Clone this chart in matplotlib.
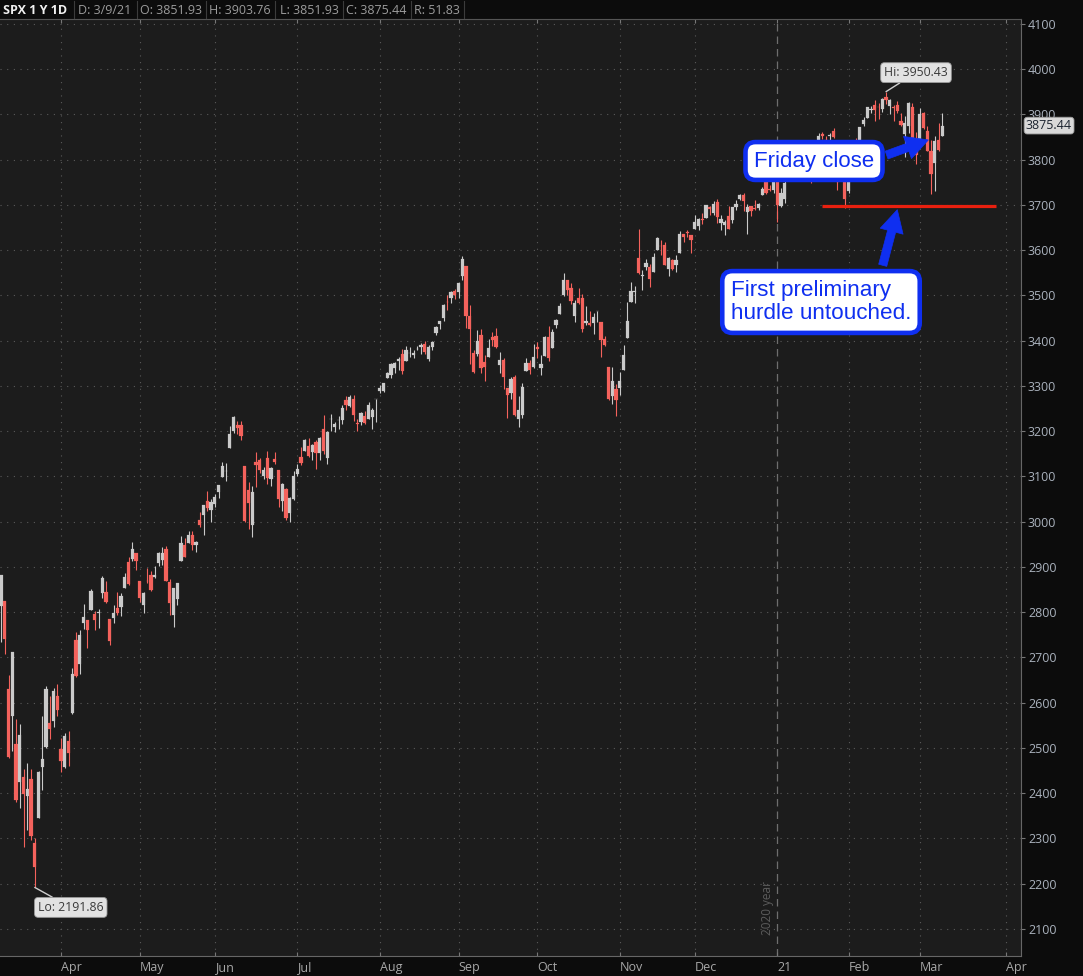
import matplotlib
matplotlib.use('Agg')
import matplotlib.pyplot as plt
import pandas as pd
import numpy as np
from matplotlib.patches import FancyArrowPatch
from matplotlib.lines import Line2D

# ---------------- data ----------------
holidays = ['2020-04-10', '2020-05-25', '2020-07-03', '2020-09-07', '2020-11-26',
            '2020-12-25', '2021-01-01', '2021-01-18', '2021-02-15']
dates = pd.bdate_range('2020-03-10', '2021-03-09')
dates = dates[~dates.isin(pd.to_datetime(holidays))]

opens = [
    2813.48, 2825.60, 2630.86, 2569.99, 2508.59, 2425.66, 2436.50, 2393.48, 2431.94, 2290.71, 2344.44, 2457.77, 2501.29, 2555.87, 2558.98, 2614.69,
    2498.08, 2458.54, 2514.92, 2578.28, 2738.65, 2685.00, 2776.99, 2782.46, 2805.10, 2795.64, 2799.34, 2842.43, 2845.62, 2784.81, 2787.89, 2810.42, 2812.64, 2854.65, 2909.96, 2918.46, 2930.91,
    2869.09, 2815.01, 2868.88, 2883.14, 2878.26, 2908.83, 2915.46, 2939.50, 2865.86, 2794.54, 2829.95, 2913.86, 2948.59, 2953.63, 2969.95, 2948.05, 3004.08, 3015.65, 3046.61, 3025.17,
    3038.78, 3064.78, 3098.90, 3111.56, 3163.84, 3199.92, 3213.32, 3213.42, 3123.53, 3071.04, 2993.76, 3131.00, 3136.13, 3101.64, 3140.29, 3094.42, 3138.70, 3114.40, 3046.60, 3073.20, 3018.59, 3050.20,
    3105.92, 3143.64, 3155.29, 3166.44, 3153.07, 3176.17, 3152.47, 3205.08, 3141.11, 3225.98, 3208.36, 3224.21, 3224.29, 3268.52, 3254.86, 3271.64, 3218.58, 3219.84, 3234.27, 3227.22, 3231.76, 3270.45,
    3288.26, 3289.92, 3317.37, 3323.17, 3340.05, 3356.04, 3370.34, 3355.46, 3372.95, 3368.66, 3380.86, 3387.04, 3392.51, 3360.48, 3386.01, 3418.09, 3435.95, 3449.97, 3485.14, 3494.69, 3509.73,
    3507.44, 3543.76, 3564.74, 3453.60, 3371.88, 3369.82, 3412.56, 3352.70, 3363.56, 3407.73, 3411.23, 3346.86, 3357.38, 3295.75, 3285.57, 3320.11, 3226.14, 3236.66, 3333.90, 3350.92, 3341.21,
    3385.87, 3338.94, 3367.27, 3408.74, 3384.56, 3434.28, 3459.67, 3500.02, 3534.01, 3515.47, 3453.72, 3493.50, 3493.66, 3439.38, 3439.91, 3438.50, 3464.90, 3441.42, 3403.15, 3342.48, 3277.17, 3293.59,
    3296.20, 3336.25, 3406.46, 3485.74, 3508.34, 3583.04, 3543.26, 3563.22, 3562.67, 3552.57, 3600.16, 3610.31, 3612.09, 3559.41, 3579.31, 3566.82, 3594.52, 3635.50, 3638.55, 3634.18,
    3645.87, 3653.78, 3668.28, 3670.94, 3694.73, 3683.05, 3705.98, 3659.13, 3656.08, 3675.27, 3666.41, 3696.25, 3713.65, 3722.39, 3684.28, 3698.08, 3693.42, 3694.03, 3723.03, 3750.01, 3736.19, 3733.27,
    3764.61, 3698.02, 3712.20, 3764.71, 3815.05, 3803.14, 3801.62, 3802.23, 3814.98, 3788.73, 3781.88, 3816.22, 3857.46, 3844.24, 3851.68, 3862.96, 3836.83, 3755.75, 3778.05,
    3731.17, 3791.84, 3840.27, 3836.66, 3878.30, 3892.59, 3910.49, 3920.78, 3916.40, 3911.65, 3939.61, 3918.50, 3915.86, 3921.16, 3885.55, 3857.07, 3873.71, 3915.80, 3839.66,
    3842.51, 3903.64, 3863.99, 3818.53, 3793.58, 3844.39, 3851.93,
]
highs = [
    2882.59, 2825.60, 2660.95, 2711.33, 2562.98, 2553.93, 2453.57, 2466.97, 2453.01, 2300.73, 2449.71, 2571.42, 2637.01, 2615.91, 2631.80, 2641.39,
    2522.75, 2533.22, 2538.18, 2676.85, 2756.89, 2760.75, 2818.57, 2782.46, 2851.85, 2801.88, 2806.51, 2879.22, 2868.98, 2785.54, 2815.10, 2844.90, 2842.71, 2887.72, 2921.15, 2954.86, 2930.91,
    2869.09, 2844.24, 2898.23, 2891.11, 2901.92, 2932.16, 2944.25, 2945.82, 2874.14, 2852.80, 2865.01, 2968.09, 2964.21, 2980.29, 2978.50, 2956.76, 3021.72, 3036.25, 3068.67, 3049.17,
    3062.18, 3081.07, 3130.94, 3128.91, 3211.72, 3233.13, 3222.71, 3223.27, 3123.53, 3088.42, 3079.76, 3153.45, 3141.16, 3120.00, 3155.53, 3120.92, 3154.90, 3115.01, 3086.25, 3073.73, 3053.89, 3111.51,
    3128.44, 3165.81, 3182.59, 3184.15, 3171.80, 3179.78, 3186.82, 3235.32, 3200.95, 3238.28, 3220.39, 3233.52, 3258.61, 3277.29, 3279.32, 3279.99, 3227.26, 3241.43, 3243.72, 3264.74, 3250.92, 3272.17,
    3302.73, 3306.84, 3330.77, 3351.03, 3352.54, 3363.29, 3381.01, 3387.89, 3387.24, 3378.51, 3387.59, 3395.06, 3399.54, 3390.80, 3399.96, 3432.09, 3444.21, 3481.07, 3501.38, 3509.23, 3514.77,
    3528.03, 3588.11, 3564.85, 3479.15, 3379.97, 3424.77, 3425.55, 3368.95, 3402.93, 3419.48, 3428.92, 3375.17, 3362.27, 3295.75, 3320.31, 3323.35, 3278.70, 3306.88, 3360.74, 3357.92, 3393.56,
    3397.18, 3369.10, 3409.57, 3431.56, 3426.26, 3447.28, 3482.34, 3549.85, 3534.01, 3527.94, 3489.08, 3515.76, 3502.42, 3476.93, 3464.86, 3460.53, 3466.46, 3441.42, 3409.51, 3342.48, 3341.05, 3304.93,
    3330.14, 3389.49, 3486.25, 3529.05, 3521.58, 3645.99, 3557.22, 3581.16, 3569.02, 3593.66, 3628.51, 3623.11, 3619.09, 3585.22, 3581.23, 3589.81, 3642.31, 3635.50, 3644.31, 3634.18,
    3678.45, 3670.96, 3682.73, 3699.20, 3697.41, 3708.45, 3712.39, 3678.49, 3665.91, 3697.61, 3695.29, 3711.27, 3725.12, 3726.70, 3702.90, 3698.26, 3711.24, 3703.82, 3740.51, 3756.12, 3744.63, 3760.20,
    3769.99, 3737.83, 3783.04, 3811.55, 3826.69, 3817.86, 3810.78, 3820.96, 3823.60, 3788.73, 3804.53, 3859.75, 3861.45, 3852.31, 3859.23, 3870.90, 3836.83, 3830.50, 3778.05,
    3784.32, 3843.09, 3847.51, 3872.42, 3894.56, 3915.77, 3918.35, 3931.50, 3925.99, 3937.23, 3950.43, 3933.61, 3921.98, 3930.41, 3902.92, 3895.98, 3928.65, 3925.02, 3861.08,
    3914.50, 3906.41, 3874.47, 3843.67, 3851.69, 3881.06, 3903.76,
]
lows = [
    2734.00, 2707.22, 2478.86, 2492.37, 2380.94, 2367.04, 2280.52, 2319.78, 2295.56, 2191.86, 2344.44, 2407.53, 2500.72, 2520.02, 2545.28, 2571.15,
    2447.49, 2455.79, 2459.96, 2574.57, 2657.67, 2663.30, 2762.36, 2721.17, 2805.10, 2761.54, 2764.32, 2830.88, 2820.43, 2727.10, 2775.95, 2794.26, 2791.76, 2852.89, 2860.71, 2912.16, 2892.47,
    2821.61, 2797.85, 2863.55, 2847.65, 2876.48, 2902.88, 2903.44, 2869.59, 2793.15, 2766.64, 2816.78, 2913.86, 2922.35, 2953.63, 2938.57, 2933.59, 2988.17, 2969.75, 3023.40, 2998.61,
    3031.54, 3051.64, 3098.90, 3090.41, 3163.84, 3196.00, 3193.11, 3181.49, 2999.49, 2984.47, 2965.66, 3076.06, 3108.03, 3093.51, 3083.11, 3079.39, 3127.12, 3032.13, 3024.01, 3004.63, 2999.74, 3047.83,
    3101.17, 3124.52, 3155.29, 3142.93, 3136.53, 3115.70, 3136.22, 3149.43, 3127.66, 3200.76, 3198.59, 3205.65, 3215.16, 3247.77, 3253.10, 3222.66, 3200.05, 3214.25, 3216.17, 3227.22, 3204.13, 3220.26,
    3284.53, 3286.37, 3317.37, 3318.14, 3328.72, 3335.44, 3326.44, 3355.46, 3363.35, 3361.64, 3379.22, 3370.15, 3369.66, 3354.69, 3379.31, 3413.13, 3425.84, 3444.15, 3468.35, 3484.32, 3493.25,
    3494.60, 3535.23, 3427.41, 3349.63, 3329.27, 3366.84, 3329.25, 3310.47, 3363.56, 3389.25, 3384.45, 3328.82, 3292.40, 3229.10, 3270.95, 3232.57, 3209.45, 3228.44, 3332.91, 3327.54, 3340.47,
    3361.39, 3323.69, 3367.27, 3354.54, 3384.56, 3428.15, 3458.07, 3499.61, 3500.86, 3480.55, 3440.89, 3480.45, 3419.93, 3435.65, 3433.06, 3415.34, 3440.45, 3364.86, 3388.71, 3268.89, 3259.82, 3233.94,
    3279.74, 3336.25, 3405.17, 3485.74, 3484.34, 3547.48, 3511.91, 3557.00, 3518.58, 3552.57, 3600.16, 3588.68, 3567.33, 3543.84, 3556.85, 3552.77, 3594.52, 3617.76, 3629.33, 3594.39,
    3645.87, 3644.84, 3657.17, 3670.94, 3678.88, 3678.83, 3660.54, 3645.18, 3633.40, 3645.84, 3659.62, 3688.57, 3710.87, 3685.84, 3636.48, 3676.16, 3689.28, 3689.32, 3723.03, 3723.31, 3730.21, 3726.88,
    3662.71, 3695.07, 3705.34, 3764.71, 3783.60, 3789.02, 3776.51, 3791.50, 3792.86, 3749.62, 3780.37, 3816.22, 3845.05, 3830.41, 3797.16, 3847.78, 3732.48, 3755.75, 3694.12,
    3725.62, 3791.84, 3816.68, 3836.66, 3874.93, 3892.59, 3902.64, 3884.94, 3890.39, 3905.78, 3923.85, 3900.43, 3885.03, 3903.07, 3874.71, 3805.59, 3859.60, 3814.04, 3789.54,
    3842.51, 3868.57, 3818.86, 3723.34, 3730.19, 3819.25, 3851.93,
]
closes = [
    2882.23, 2741.38, 2480.64, 2711.02, 2386.13, 2529.19, 2398.10, 2409.39, 2304.92, 2237.40, 2447.33, 2475.56, 2630.07, 2541.47, 2626.65, 2584.59,
    2470.50, 2526.90, 2488.65, 2663.68, 2659.41, 2749.98, 2789.82, 2761.63, 2846.06, 2783.36, 2799.55, 2874.56, 2823.16, 2736.56, 2799.31, 2797.80, 2836.74, 2878.48, 2863.39, 2939.51, 2912.43,
    2830.71, 2842.74, 2868.44, 2848.42, 2881.19, 2929.80, 2930.32, 2870.12, 2820.00, 2852.50, 2863.70, 2953.91, 2922.94, 2971.61, 2948.51, 2955.45, 2991.77, 3036.13, 3029.73, 3044.31,
    3055.73, 3080.82, 3122.87, 3112.35, 3193.93, 3232.39, 3207.18, 3190.14, 3002.10, 3041.31, 3066.59, 3124.74, 3113.49, 3115.34, 3097.74, 3117.86, 3131.29, 3050.33, 3083.76, 3009.05, 3053.24, 3100.29,
    3115.86, 3130.01, 3179.72, 3145.32, 3169.94, 3152.05, 3185.04, 3155.22, 3197.52, 3226.56, 3215.57, 3224.73, 3251.84, 3257.30, 3276.02, 3235.66, 3215.63, 3239.41, 3218.44, 3258.44, 3246.22, 3271.12,
    3294.61, 3306.51, 3327.77, 3349.16, 3351.28, 3360.47, 3333.69, 3380.35, 3373.43, 3372.85, 3381.99, 3389.78, 3374.85, 3385.51, 3397.16, 3431.28, 3443.62, 3478.73, 3484.55, 3508.01, 3500.31,
    3526.65, 3580.84, 3455.06, 3426.96, 3331.84, 3398.96, 3339.19, 3340.97, 3383.54, 3401.20, 3385.49, 3357.01, 3319.47, 3281.06, 3315.57, 3236.92, 3246.59, 3298.46, 3351.60, 3335.47, 3363.00,
    3380.80, 3348.42, 3408.60, 3360.97, 3419.44, 3446.83, 3477.14, 3534.22, 3511.93, 3488.67, 3483.34, 3483.81, 3426.92, 3443.12, 3435.56, 3453.49, 3465.39, 3400.97, 3390.68, 3271.03, 3310.11, 3269.96,
    3310.24, 3369.16, 3443.44, 3510.45, 3509.44, 3550.50, 3545.53, 3572.66, 3537.01, 3585.15, 3626.91, 3609.53, 3567.79, 3581.87, 3557.54, 3577.59, 3635.41, 3629.65, 3638.35, 3621.63,
    3662.45, 3669.01, 3666.72, 3699.12, 3691.96, 3702.25, 3672.82, 3668.10, 3663.46, 3647.49, 3694.62, 3701.17, 3722.48, 3709.41, 3694.92, 3687.26, 3690.01, 3703.06, 3735.36, 3727.04, 3732.04, 3756.07,
    3700.65, 3726.86, 3748.14, 3803.79, 3824.68, 3799.61, 3801.19, 3809.84, 3795.54, 3768.25, 3798.91, 3851.85, 3853.07, 3841.47, 3855.36, 3849.62, 3750.77, 3787.38, 3714.24,
    3773.86, 3826.31, 3830.17, 3871.74, 3886.83, 3915.59, 3911.23, 3909.88, 3916.38, 3934.83, 3932.59, 3931.33, 3913.97, 3906.71, 3876.50, 3881.37, 3925.43, 3829.34, 3811.15,
    3901.82, 3870.29, 3819.72, 3768.47, 3841.94, 3821.35, 3875.44,
]

month_names = ['Apr', 'May', 'Jun', 'Jul', 'Aug', 'Sep', 'Oct', 'Nov', 'Dec', '21', 'Feb', 'Mar', 'Apr']
y_ticks = list(range(2100, 4101, 100))
support_level = 3697.0
header_items = ['D: 3/9/21', 'O: 3851.93', 'H: 3903.76', 'L: 3851.93', 'C: 3875.44', 'R: 51.83']

# ---------------- figure ----------------
W, H = 1083, 976
FONT = 'Open Sans'
fig = plt.figure(figsize=(W / 100, H / 100), dpi=100, facecolor='#0c0c0c')
ax = fig.add_axes([0, 20 / H, 1021 / W, 937 / H], facecolor='#1c1c1c')

o = np.array(opens); h = np.array(highs); l = np.array(lows); c = np.array(closes)
idx = np.arange(len(c))
up = c >= o
UP, DN = '#cacaca', '#f4625c'
cols = np.where(up, UP, DN)

ax.set_xlim(-0.27, 272)
ax.set_ylim(2040.3, 4111.0)

# month ticks
tick_idx = [i for i in range(1, len(dates)) if dates[i].month != dates[i - 1].month]
tick_idx.append(len(dates) + len(pd.bdate_range('2021-03-10', '2021-03-31')))
year_idx = [i for i in range(1, len(dates)) if dates[i].year != dates[i - 1].year][0]

# grid
for yv in y_ticks:
    ax.axhline(yv, color='#5a5a5a', lw=0.8, ls=(0, (1, 5)), zorder=1)
for ti in tick_idx:
    if ti == year_idx:
        ax.axvline(ti, color='#6e6e6e', lw=0.9, ls=(0, (6, 4)), zorder=1)
    else:
        ax.axvline(ti, color='#5a5a5a', lw=0.8, ls=(0, (1, 5)), zorder=1)

# candles
ax.vlines(idx, l, h, colors=cols, lw=0.8, zorder=3)
body = np.maximum(np.abs(c - o), 0.9)
ax.bar(idx, body, bottom=np.minimum(o, c), width=0.82, color=cols, edgecolor=cols,
       linewidth=0.15, zorder=4)

# support line
ax.hlines(support_level, 219, 265.3, color='#e8200f', lw=2.3, zorder=5)

# spines / ticks
ax.spines['left'].set_visible(False)
ax.spines['top'].set_color('#555555')
ax.spines['bottom'].set_color('#666666')
ax.spines['right'].set_color('#666666')
ax.set_xticks(tick_idx)
ax.set_xticklabels([])
ax.tick_params(axis='x', which='both', direction='in', length=3, color='#777777', top=True, bottom=True)
ax.yaxis.tick_right()
ax.set_yticks(y_ticks)
ax.set_yticklabels([str(v) for v in y_ticks], fontsize=9, color='#aab2bd', family=FONT)
ax.tick_params(axis='y', direction='out', length=3, color='#777777', pad=2)

# month labels
xt = ax.get_xaxis_transform()
for ti, name in zip(tick_idx, month_names):
    ax.text(ti, -0.0128, name, transform=xt, ha='left', va='center', fontsize=9,
            color='#a8a8a8', family=FONT, clip_on=False)

# year label
fig.text(768 / W, 1 - 908 / H, '2020 year', rotation=90, ha='center', va='center',
         fontsize=8.5, color='#5c5c5c', family=FONT)

# Hi / Lo labels
hi_i = int(np.argmax(h)); lo_i = int(np.argmin(l))
box_kw = dict(boxstyle='round,pad=0.28,rounding_size=0.3', fc='#e2e2e2', ec='#9a9a9a', lw=0.6)
ax.annotate(f'Hi: {h[hi_i]:.2f}', xy=(hi_i, h[hi_i]), xytext=(30, 19), textcoords='offset pixels',
            ha='center', va='center', fontsize=8.8, color='#3a3a3a', family=FONT, bbox=box_kw,
            arrowprops=dict(arrowstyle='-', color='#cfcfcf', lw=1, shrinkA=0, shrinkB=0), zorder=8)
ax.annotate(f'Lo: {l[lo_i]:.2f}', xy=(lo_i, l[lo_i]), xytext=(36, -20), textcoords='offset pixels',
            ha='center', va='center', fontsize=8.8, color='#3a3a3a', family=FONT, bbox=box_kw,
            arrowprops=dict(arrowstyle='-', color='#cfcfcf', lw=1, shrinkA=0, shrinkB=0), zorder=8)

# last price box
fig.text(1026 / W, ax.transData.transform((0, c[-1]))[1] / H, f'{c[-1]:.2f}', ha='left', va='center',
         fontsize=9, color='#1c2430', family=FONT, zorder=10,
         bbox=dict(boxstyle='round,pad=0.15,rounding_size=0.25', fc='#d9d9d9', ec='#9a9a9a', lw=0.6))

# header
fig.text(3 / W, 1 - 10 / H, 'SPX 1 Y 1D', ha='left', va='center', fontsize=9, fontweight='bold',
         color='#f0f0f0', family=FONT)
sep_x = [74, 137, 206, 275, 343, 411, 464]
txt_x = [78, 140, 209, 280, 346, 414]
for sx in sep_x:
    fig.add_artist(Line2D([sx / W, sx / W], [1 - 1 / H, 1 - 18 / H], transform=fig.transFigure,
                          color='#3c3c3c', lw=0.8))
for tx, t in zip(txt_x, header_items):
    fig.text(tx / W, 1 - 10 / H, t, ha='left', va='center', fontsize=9, color='#9c9c9c', family=FONT)

# callouts
BLUE = '#0f2ff0'
def fpt(x, y):
    return (x / W, 1 - y / H)

fig.text(*fpt(814, 161), 'Friday close', ha='center', va='center', fontsize=16, color=BLUE,
         family='Liberation Sans', zorder=12,
         bbox=dict(boxstyle='round,pad=0.38,rounding_size=0.45', fc='white', ec=BLUE, lw=3.3))
fig.text(*fpt(821, 302), 'First preliminary\nhurdle untouched.', ha='center', va='center',
         multialignment='left', fontsize=16.2, color=BLUE, family='Liberation Sans',
         linespacing=1.17, zorder=12,
         bbox=dict(boxstyle='round,pad=0.38,rounding_size=0.45', fc='white', ec=BLUE, lw=3.3))

arrow_style = 'simple,head_length=0.8,head_width=0.85,tail_width=0.3'
for (x0, y0), (x1, y1) in [((884, 156), (931, 139)), ((882, 268), (898, 207))]:
    fig.add_artist(FancyArrowPatch(fpt(x0, y0), fpt(x1, y1), transform=fig.transFigure,
                                   arrowstyle=arrow_style, mutation_scale=20, fc=BLUE, ec=BLUE,
                                   lw=0.5, zorder=11))

fig.savefig('out.png', dpi=100, facecolor=fig.get_facecolor())
